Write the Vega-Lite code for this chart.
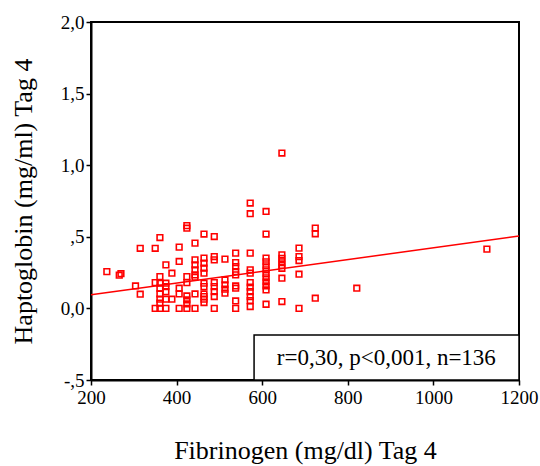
{
  "$schema": "https://vega.github.io/schema/vega-lite/v6.json",
  "autosize": "none",
  "width": 428,
  "height": 358,
  "padding": {"left": 91, "top": 22, "right": 21, "bottom": 86},
  "background": "white",
  "config": {
    "view": {"stroke": "black", "strokeWidth": 2},
    "font": "Liberation Serif",
    "axis": {
      "labelFont": "Liberation Serif", "titleFont": "Liberation Serif",
      "labelColor": "black", "titleColor": "black", "labelFontSize": 19, "titleFontSize": 26,
      "titleFontWeight": "normal", "domainColor": "black", "domainWidth": 2, "tickColor": "black",
      "tickWidth": 1.5, "tickSize": 5, "grid": false
    }
  },
  "datasets": {
    "pts": [
      {"fib": 237, "hap": 0.257}, {"fib": 266, "hap": 0.232}, {"fib": 270, "hap": 0.242},
      {"fib": 304, "hap": 0.157}, {"fib": 315, "hap": 0.42}, {"fib": 315, "hap": 0.099},
      {"fib": 350, "hap": 0.42}, {"fib": 350, "hap": 0.18}, {"fib": 350, "hap": 0.0},
      {"fib": 361, "hap": 0.495}, {"fib": 361, "hap": 0.222}, {"fib": 361, "hap": 0.176}, {"fib": 361, "hap": 0.141},
      {"fib": 361, "hap": 0.101}, {"fib": 361, "hap": 0.064}, {"fib": 361, "hap": 0.036}, {"fib": 361, "hap": 0.0},
      {"fib": 375, "hap": 0.304}, {"fib": 375, "hap": 0.176}, {"fib": 375, "hap": 0.152}, {"fib": 375, "hap": 0.117},
      {"fib": 375, "hap": 0.064}, {"fib": 375, "hap": 0.0},
      {"fib": 389, "hap": 0.246}, {"fib": 389, "hap": 0.064},
      {"fib": 406, "hap": 0.428}, {"fib": 406, "hap": 0.328}, {"fib": 406, "hap": 0.141}, {"fib": 406, "hap": 0.101}, {"fib": 406, "hap": 0.0},
      {"fib": 424, "hap": 0.56}, {"fib": 424, "hap": 0.578}, {"fib": 424, "hap": 0.222}, {"fib": 424, "hap": 0.18},
      {"fib": 424, "hap": 0.087}, {"fib": 424, "hap": 0.059}, {"fib": 424, "hap": 0.031}, {"fib": 424, "hap": 0.0},
      {"fib": 443, "hap": 0.456}, {"fib": 443, "hap": 0.339}, {"fib": 443, "hap": 0.304}, {"fib": 443, "hap": 0.269},
      {"fib": 443, "hap": 0.234}, {"fib": 443, "hap": 0.218}, {"fib": 443, "hap": 0.101}, {"fib": 443, "hap": 0.0},
      {"fib": 464, "hap": 0.519}, {"fib": 464, "hap": 0.351}, {"fib": 464, "hap": 0.316}, {"fib": 464, "hap": 0.281},
      {"fib": 464, "hap": 0.246}, {"fib": 464, "hap": 0.176}, {"fib": 464, "hap": 0.152}, {"fib": 464, "hap": 0.101},
      {"fib": 464, "hap": 0.083}, {"fib": 464, "hap": 0.064}, {"fib": 464, "hap": 0.041},
      {"fib": 488, "hap": 0.502}, {"fib": 488, "hap": 0.362}, {"fib": 488, "hap": 0.339}, {"fib": 488, "hap": 0.18},
      {"fib": 488, "hap": 0.152}, {"fib": 488, "hap": 0.117}, {"fib": 488, "hap": 0.083}, {"fib": 488, "hap": 0.0},
      {"fib": 513, "hap": 0.344}, {"fib": 513, "hap": 0.199}, {"fib": 513, "hap": 0.164}, {"fib": 513, "hap": 0.134}, {"fib": 513, "hap": 0.106},
      {"fib": 538, "hap": 0.386}, {"fib": 538, "hap": 0.32}, {"fib": 538, "hap": 0.292}, {"fib": 538, "hap": 0.257},
      {"fib": 538, "hap": 0.234}, {"fib": 538, "hap": 0.157}, {"fib": 538, "hap": 0.141}, {"fib": 538, "hap": 0.052}, {"fib": 538, "hap": 0.0},
      {"fib": 572, "hap": 0.736}, {"fib": 572, "hap": 0.661}, {"fib": 572, "hap": 0.386}, {"fib": 572, "hap": 0.269},
      {"fib": 572, "hap": 0.246}, {"fib": 572, "hap": 0.18}, {"fib": 572, "hap": 0.148}, {"fib": 572, "hap": 0.117},
      {"fib": 572, "hap": 0.083}, {"fib": 572, "hap": 0.055}, {"fib": 572, "hap": 0.013},
      {"fib": 609, "hap": 0.677}, {"fib": 609, "hap": 0.519}, {"fib": 609, "hap": 0.351}, {"fib": 609, "hap": 0.325},
      {"fib": 609, "hap": 0.297}, {"fib": 609, "hap": 0.269}, {"fib": 609, "hap": 0.241}, {"fib": 609, "hap": 0.213},
      {"fib": 609, "hap": 0.185}, {"fib": 609, "hap": 0.157}, {"fib": 609, "hap": 0.129}, {"fib": 609, "hap": 0.029},
      {"fib": 646, "hap": 1.085}, {"fib": 646, "hap": 0.374}, {"fib": 646, "hap": 0.35}, {"fib": 646, "hap": 0.325},
      {"fib": 646, "hap": 0.3}, {"fib": 646, "hap": 0.28}, {"fib": 646, "hap": 0.211}, {"fib": 646, "hap": 0.048},
      {"fib": 686, "hap": 0.421}, {"fib": 686, "hap": 0.362}, {"fib": 686, "hap": 0.334}, {"fib": 686, "hap": 0.239}, {"fib": 686, "hap": 0.0},
      {"fib": 724, "hap": 0.561}, {"fib": 724, "hap": 0.521}, {"fib": 724, "hap": 0.071},
      {"fib": 821, "hap": 0.141},
      {"fib": 1125, "hap": 0.414}
    ],
    "fit": [{"fib": 200, "hap": 0.095}, {"fib": 1200, "hap": 0.505}],
    "box": [{"x1": 581, "x2": 1200, "y1": -0.185, "y2": -0.5, "xm": 890, "ym": -0.343, "label": "r=0,30, p<0,001, n=136"}]
  },
  "layer": [
    {
      "data": {"name": "pts"},
      "mark": {"type": "point", "shape": "square", "size": 32, "stroke": "#ff0000", "strokeWidth": 1.6, "filled": false, "opacity": 1},
      "encoding": {
        "x": {"field": "fib", "type": "quantitative", "scale": {"domain": [200, 1200], "nice": false, "zero": false},
          "axis": {"values": [200, 400, 600, 800, 1000, 1200], "format": "d", "title": "Fibrinogen (mg/dl) Tag 4", "titlePadding": 30, "labelPadding": 3, "labelFlush": false}},
        "y": {"field": "hap", "type": "quantitative", "scale": {"domain": [-0.5, 2.0], "nice": false, "zero": false},
          "axis": {"values": [-0.5, 0, 0.5, 1, 1.5, 2], "title": "Haptoglobin (mg/ml) Tag 4", "titlePadding": 24, "labelPadding": 2,
            "labelExpr": "datum.value == 0.5 ? ',5' : (datum.value == -0.5 ? '-,5' : replace(format(datum.value, '.1f'), '.', ','))"}}
      }
    },
    {
      "data": {"name": "fit"},
      "mark": {"type": "line", "color": "#ff0000", "strokeWidth": 1.5},
      "encoding": {"x": {"field": "fib", "type": "quantitative"}, "y": {"field": "hap", "type": "quantitative"}}
    },
    {
      "data": {"name": "box"},
      "mark": {"type": "rect", "fill": "white", "stroke": "black", "strokeWidth": 1.5},
      "encoding": {"x": {"field": "x1", "type": "quantitative"}, "x2": {"field": "x2"}, "y": {"field": "y1", "type": "quantitative"}, "y2": {"field": "y2"}}
    },
    {
      "data": {"name": "box"},
      "mark": {"type": "text", "font": "Liberation Serif", "fontSize": 23, "color": "black", "align": "center", "baseline": "middle"},
      "encoding": {"x": {"field": "xm", "type": "quantitative"}, "y": {"field": "ym", "type": "quantitative"}, "text": {"field": "label"}}
    }
  ]
}
